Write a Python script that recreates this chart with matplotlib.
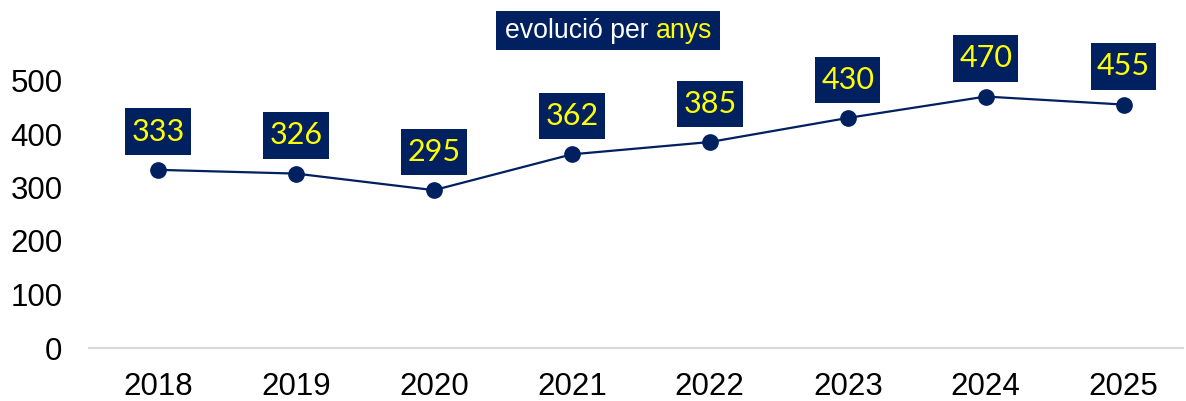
import matplotlib.pyplot as plt
from matplotlib.patches import Rectangle
from matplotlib.path import Path

NAVY = '#002060'
YELLOW = '#FFFF00'

years = ['2018', '2019', '2020', '2021', '2022', '2023', '2024', '2025']
values = [333, 326, 295, 362, 385, 430, 470, 455]
y_ticks = [0, 100, 200, 300, 400, 500]

W, H = 1186, 401


def label_box(x0, y0, width, height, mutation_size):
    # square box, more room above/below than at the sides
    px, py = 0.2 * mutation_size, 0.3 * mutation_size
    x0, x1 = x0 - px, x0 + width + px
    y0, y1 = y0 - py, y0 + height + py
    return Path([(x0, y0), (x1, y0), (x1, y1), (x0, y1), (x0, y0)], closed=True)


fig = plt.figure(figsize=(W / 100, H / 100), dpi=100)
ax = fig.add_axes([89 / W, 53 / H, (1183 - 89) / W, (348 - 27) / H])

x = range(len(years))
ax.plot(x, values, color=NAVY, lw=1.6, marker='o', ms=11, zorder=3)

for xi, v in zip(x, values):
    ax.annotate(str(v), (xi, v), xytext=(0, 27.5), textcoords='offset points',
                ha='center', va='center', fontsize=22, family='Lato', color=YELLOW,
                bbox=dict(boxstyle=label_box, fc=NAVY, ec='none'))

ax.set_xlim(-0.5, 7.43)
ax.set_ylim(0, 600)
ax.set_xticks(list(x))
ax.set_xticklabels(years)
ax.set_yticks(y_ticks)
ax.tick_params(length=0, labelsize=22.5, colors='black')
ax.tick_params(axis='x', pad=17)
ax.tick_params(axis='y', pad=19)
for lbl in ax.get_xticklabels() + ax.get_yticklabels():
    lbl.set_family('Liberation Sans')
for s in ['top', 'right', 'left']:
    ax.spines[s].set_visible(False)
ax.spines['bottom'].set_color('#d9d9d9')
ax.spines['bottom'].set_linewidth(1.5)

# title box
fig.patches.append(Rectangle((496 / W, 1 - 50 / H), 224 / W, 39 / H,
                             transform=fig.transFigure, fc=NAVY, ec='none'))
t1 = fig.text(505 / W, 1 - 31 / H, 'evolució per ', color='white', fontsize=19.2,
              family='Liberation Sans', va='center', ha='left')
t2 = fig.text(0, 1 - 31 / H, 'anys', color=YELLOW, fontsize=19.2,
              family='Liberation Sans', va='center', ha='left')
fig.canvas.draw()
bb = t1.get_window_extent()
t2.set_position((bb.x1 / W, 1 - 31 / H))

fig.savefig('out.png', dpi=100)
